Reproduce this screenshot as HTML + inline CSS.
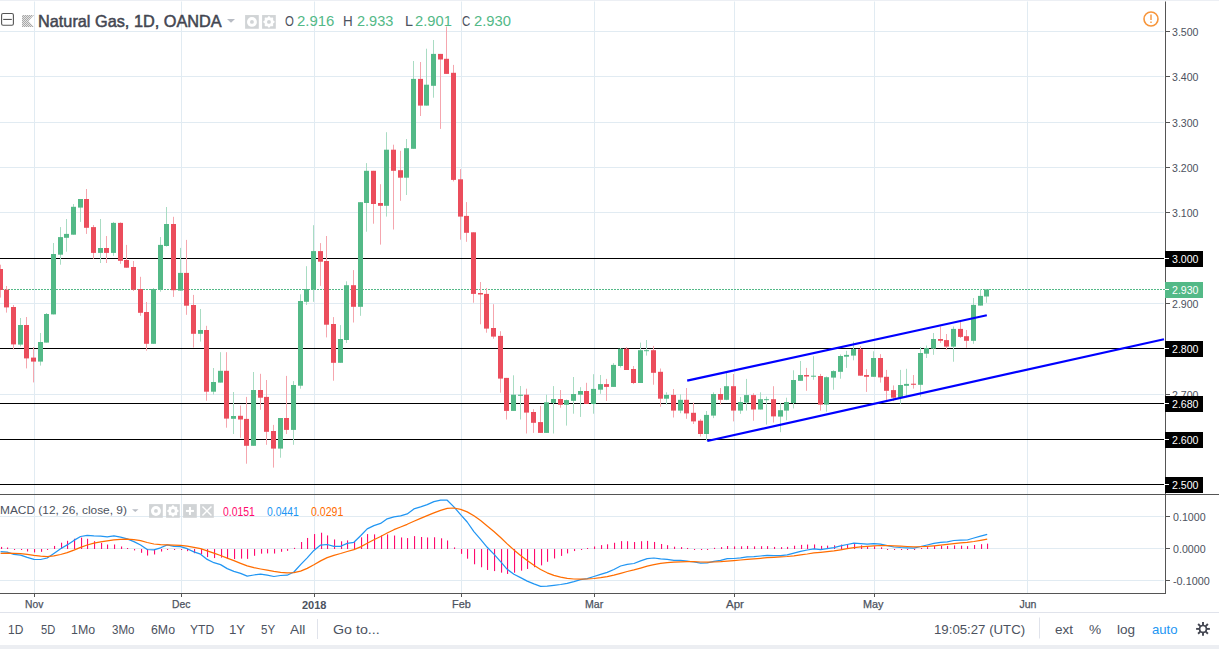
<!DOCTYPE html>
<html><head><meta charset="utf-8"><style>
html,body{margin:0;padding:0;background:#fff;}
body{width:1219px;height:649px;position:relative;overflow:hidden;font-family:"Liberation Sans",sans-serif;}
svg{position:absolute;left:0;top:0;}
</style></head><body>
<svg width="1219" height="649" viewBox="0 0 1219 649">
<rect x="0" y="0" width="1219" height="1" fill="#eceff4"/>
<rect x="34" y="1.5" width="1" height="591.5" fill="#e1ebf2"/>
<rect x="181" y="1.5" width="1" height="591.5" fill="#e1ebf2"/>
<rect x="314" y="1.5" width="1" height="591.5" fill="#e1ebf2"/>
<rect x="461" y="1.5" width="1" height="591.5" fill="#e1ebf2"/>
<rect x="594" y="1.5" width="1" height="591.5" fill="#e1ebf2"/>
<rect x="734" y="1.5" width="1" height="591.5" fill="#e1ebf2"/>
<rect x="874" y="1.5" width="1" height="591.5" fill="#e1ebf2"/>
<rect x="1027" y="1.5" width="1" height="591.5" fill="#e1ebf2"/>
<rect x="0" y="31" width="1164" height="1" fill="#e1ebf2"/>
<rect x="0" y="76" width="1164" height="1" fill="#e1ebf2"/>
<rect x="0" y="122" width="1164" height="1" fill="#e1ebf2"/>
<rect x="0" y="167" width="1164" height="1" fill="#e1ebf2"/>
<rect x="0" y="212" width="1164" height="1" fill="#e1ebf2"/>
<rect x="0" y="258" width="1164" height="1" fill="#e1ebf2"/>
<rect x="0" y="303" width="1164" height="1" fill="#e1ebf2"/>
<rect x="0" y="348" width="1164" height="1" fill="#e1ebf2"/>
<rect x="0" y="394" width="1164" height="1" fill="#e1ebf2"/>
<rect x="0" y="439" width="1164" height="1" fill="#e1ebf2"/>
<rect x="0" y="484" width="1164" height="1" fill="#e1ebf2"/>
<rect x="0" y="516" width="1164" height="1" fill="#e1ebf2"/>
<rect x="0" y="548" width="1164" height="1" fill="#e1ebf2"/>
<rect x="0" y="580" width="1164" height="1" fill="#e1ebf2"/>
<rect x="0" y="258" width="1164" height="1" fill="#000"/>
<rect x="0" y="348" width="1164" height="1" fill="#000"/>
<rect x="0" y="403" width="1164" height="1" fill="#000"/>
<rect x="0" y="439" width="1164" height="1" fill="#000"/>
<rect x="0" y="484" width="1164" height="1" fill="#000"/>
<line x1="0" y1="289.5" x2="1165" y2="289.5" stroke="#53b987" stroke-width="1" stroke-dasharray="2 1" stroke-dashoffset="1"/>
<rect x="0" y="264.7" width="1" height="32.9" fill="#f5a6ae"/>
<rect x="-2" y="269.0" width="5" height="21.0" fill="#eb4d5c"/>
<rect x="6" y="286.0" width="1" height="26.6" fill="#f5a6ae"/>
<rect x="4" y="289.6" width="5" height="17.8" fill="#eb4d5c"/>
<rect x="13" y="305.0" width="1" height="44.4" fill="#f5a6ae"/>
<rect x="11" y="307.0" width="5" height="37.4" fill="#eb4d5c"/>
<rect x="20" y="318.0" width="1" height="28.4" fill="#a9dcc3"/>
<rect x="18" y="325.0" width="5" height="19.6" fill="#53b987"/>
<rect x="26" y="317.0" width="1" height="51.4" fill="#f5a6ae"/>
<rect x="24" y="325.0" width="5" height="33.4" fill="#eb4d5c"/>
<rect x="33" y="347.0" width="1" height="35.4" fill="#f5a6ae"/>
<rect x="31" y="357.6" width="5" height="4.0" fill="#eb4d5c"/>
<rect x="40" y="333.0" width="1" height="32.6" fill="#a9dcc3"/>
<rect x="38" y="342.0" width="5" height="19.6" fill="#53b987"/>
<rect x="46" y="313.0" width="1" height="29.6" fill="#a9dcc3"/>
<rect x="44" y="314.0" width="5" height="28.6" fill="#53b987"/>
<rect x="53" y="243.0" width="1" height="71.4" fill="#a9dcc3"/>
<rect x="51" y="254.0" width="5" height="60.4" fill="#53b987"/>
<rect x="60" y="227.1" width="1" height="37.6" fill="#a9dcc3"/>
<rect x="58" y="237.1" width="5" height="17.6" fill="#53b987"/>
<rect x="66" y="219.0" width="1" height="32.7" fill="#a9dcc3"/>
<rect x="64" y="233.9" width="5" height="3.9" fill="#53b987"/>
<rect x="73" y="204.0" width="1" height="30.7" fill="#a9dcc3"/>
<rect x="71" y="206.8" width="5" height="27.9" fill="#53b987"/>
<rect x="80" y="199.0" width="1" height="22.9" fill="#a9dcc3"/>
<rect x="78" y="199.0" width="5" height="8.6" fill="#53b987"/>
<rect x="86" y="189.0" width="1" height="44.9" fill="#f5a6ae"/>
<rect x="84" y="199.0" width="5" height="28.8" fill="#eb4d5c"/>
<rect x="93" y="225.0" width="1" height="33.8" fill="#f5a6ae"/>
<rect x="91" y="227.1" width="5" height="25.8" fill="#eb4d5c"/>
<rect x="100" y="219.0" width="1" height="44.0" fill="#a9dcc3"/>
<rect x="98" y="248.0" width="5" height="4.9" fill="#53b987"/>
<rect x="106" y="236.0" width="1" height="27.0" fill="#f5a6ae"/>
<rect x="104" y="248.0" width="5" height="4.9" fill="#eb4d5c"/>
<rect x="113" y="221.9" width="1" height="33.9" fill="#a9dcc3"/>
<rect x="111" y="222.9" width="5" height="30.0" fill="#53b987"/>
<rect x="120" y="222.4" width="1" height="41.4" fill="#f5a6ae"/>
<rect x="118" y="222.9" width="5" height="37.9" fill="#eb4d5c"/>
<rect x="126" y="244.9" width="1" height="22.8" fill="#f5a6ae"/>
<rect x="124" y="260.0" width="5" height="7.7" fill="#eb4d5c"/>
<rect x="133" y="261.0" width="1" height="30.0" fill="#f5a6ae"/>
<rect x="131" y="267.0" width="5" height="22.7" fill="#eb4d5c"/>
<rect x="140" y="276.8" width="1" height="39.0" fill="#f5a6ae"/>
<rect x="138" y="289.0" width="5" height="23.8" fill="#eb4d5c"/>
<rect x="146" y="302.0" width="1" height="48.7" fill="#f5a6ae"/>
<rect x="144" y="312.0" width="5" height="31.8" fill="#eb4d5c"/>
<rect x="153" y="288.0" width="1" height="55.8" fill="#a9dcc3"/>
<rect x="151" y="289.0" width="5" height="54.8" fill="#53b987"/>
<rect x="160" y="237.0" width="1" height="54.7" fill="#a9dcc3"/>
<rect x="158" y="244.9" width="5" height="44.8" fill="#53b987"/>
<rect x="166" y="207.0" width="1" height="39.6" fill="#a9dcc3"/>
<rect x="164" y="224.0" width="5" height="22.0" fill="#53b987"/>
<rect x="173" y="216.8" width="1" height="80.1" fill="#f5a6ae"/>
<rect x="171" y="224.0" width="5" height="66.2" fill="#eb4d5c"/>
<rect x="180" y="247.9" width="1" height="42.7" fill="#a9dcc3"/>
<rect x="178" y="272.9" width="5" height="17.7" fill="#53b987"/>
<rect x="186" y="239.9" width="1" height="74.9" fill="#f5a6ae"/>
<rect x="184" y="272.9" width="5" height="32.8" fill="#eb4d5c"/>
<rect x="193" y="294.9" width="1" height="52.6" fill="#f5a6ae"/>
<rect x="191" y="305.0" width="5" height="28.8" fill="#eb4d5c"/>
<rect x="200" y="309.0" width="1" height="32.6" fill="#a9dcc3"/>
<rect x="198" y="330.0" width="5" height="3.8" fill="#53b987"/>
<rect x="206" y="325.8" width="1" height="74.9" fill="#f5a6ae"/>
<rect x="204" y="330.0" width="5" height="61.7" fill="#eb4d5c"/>
<rect x="213" y="368.0" width="1" height="26.5" fill="#a9dcc3"/>
<rect x="211" y="382.0" width="5" height="9.7" fill="#53b987"/>
<rect x="220" y="352.2" width="1" height="30.4" fill="#a9dcc3"/>
<rect x="218" y="370.8" width="5" height="11.8" fill="#53b987"/>
<rect x="226" y="352.2" width="1" height="75.5" fill="#f5a6ae"/>
<rect x="224" y="370.8" width="5" height="47.8" fill="#eb4d5c"/>
<rect x="233" y="392.0" width="1" height="42.0" fill="#a9dcc3"/>
<rect x="231" y="416.0" width="5" height="2.8" fill="#53b987"/>
<rect x="240" y="405.5" width="1" height="32.3" fill="#f5a6ae"/>
<rect x="238" y="415.8" width="5" height="3.7" fill="#eb4d5c"/>
<rect x="246" y="396.9" width="1" height="66.8" fill="#f5a6ae"/>
<rect x="244" y="418.9" width="5" height="26.9" fill="#eb4d5c"/>
<rect x="253" y="372.0" width="1" height="73.8" fill="#a9dcc3"/>
<rect x="251" y="390.0" width="5" height="55.8" fill="#53b987"/>
<rect x="260" y="373.8" width="1" height="36.0" fill="#f5a6ae"/>
<rect x="258" y="390.0" width="5" height="7.7" fill="#eb4d5c"/>
<rect x="266" y="380.0" width="1" height="64.8" fill="#f5a6ae"/>
<rect x="264" y="396.9" width="5" height="34.9" fill="#eb4d5c"/>
<rect x="273" y="424.9" width="1" height="42.7" fill="#f5a6ae"/>
<rect x="271" y="431.0" width="5" height="17.6" fill="#eb4d5c"/>
<rect x="280" y="418.0" width="1" height="39.7" fill="#a9dcc3"/>
<rect x="278" y="418.0" width="5" height="30.6" fill="#53b987"/>
<rect x="286" y="375.9" width="1" height="58.1" fill="#f5a6ae"/>
<rect x="284" y="418.0" width="5" height="11.9" fill="#eb4d5c"/>
<rect x="293" y="381.1" width="1" height="63.7" fill="#a9dcc3"/>
<rect x="291" y="385.0" width="5" height="44.9" fill="#53b987"/>
<rect x="300" y="294.3" width="1" height="94.4" fill="#a9dcc3"/>
<rect x="298" y="301.0" width="5" height="84.7" fill="#53b987"/>
<rect x="306" y="266.2" width="1" height="38.8" fill="#a9dcc3"/>
<rect x="304" y="289.0" width="5" height="12.8" fill="#53b987"/>
<rect x="313" y="225.2" width="1" height="76.6" fill="#a9dcc3"/>
<rect x="311" y="251.1" width="5" height="38.4" fill="#53b987"/>
<rect x="320" y="243.1" width="1" height="42.8" fill="#f5a6ae"/>
<rect x="318" y="251.1" width="5" height="10.6" fill="#eb4d5c"/>
<rect x="326" y="236.0" width="1" height="101.4" fill="#f5a6ae"/>
<rect x="324" y="261.0" width="5" height="63.7" fill="#eb4d5c"/>
<rect x="333" y="317.1" width="1" height="63.6" fill="#f5a6ae"/>
<rect x="331" y="324.0" width="5" height="38.8" fill="#eb4d5c"/>
<rect x="340" y="325.1" width="1" height="37.7" fill="#a9dcc3"/>
<rect x="338" y="339.0" width="5" height="23.8" fill="#53b987"/>
<rect x="346" y="281.3" width="1" height="61.7" fill="#a9dcc3"/>
<rect x="344" y="285.2" width="5" height="54.8" fill="#53b987"/>
<rect x="353" y="270.1" width="1" height="52.4" fill="#f5a6ae"/>
<rect x="351" y="285.2" width="5" height="21.6" fill="#eb4d5c"/>
<rect x="360" y="202.0" width="1" height="113.8" fill="#a9dcc3"/>
<rect x="358" y="202.2" width="5" height="104.6" fill="#53b987"/>
<rect x="366" y="163.1" width="1" height="68.6" fill="#a9dcc3"/>
<rect x="364" y="170.8" width="5" height="32.2" fill="#53b987"/>
<rect x="373" y="170.8" width="1" height="52.9" fill="#f5a6ae"/>
<rect x="371" y="170.8" width="5" height="33.2" fill="#eb4d5c"/>
<rect x="380" y="184.2" width="1" height="60.4" fill="#f5a6ae"/>
<rect x="378" y="203.0" width="5" height="2.8" fill="#eb4d5c"/>
<rect x="386" y="132.2" width="1" height="84.4" fill="#a9dcc3"/>
<rect x="384" y="149.7" width="5" height="56.1" fill="#53b987"/>
<rect x="393" y="144.7" width="1" height="84.8" fill="#f5a6ae"/>
<rect x="391" y="149.7" width="5" height="21.1" fill="#eb4d5c"/>
<rect x="400" y="150.8" width="1" height="50.0" fill="#f5a6ae"/>
<rect x="398" y="170.2" width="5" height="7.5" fill="#eb4d5c"/>
<rect x="406" y="139.0" width="1" height="56.0" fill="#a9dcc3"/>
<rect x="404" y="148.2" width="5" height="29.5" fill="#53b987"/>
<rect x="413" y="61.0" width="1" height="87.8" fill="#a9dcc3"/>
<rect x="411" y="78.9" width="5" height="69.9" fill="#53b987"/>
<rect x="420" y="62.0" width="1" height="54.0" fill="#f5a6ae"/>
<rect x="418" y="78.9" width="5" height="26.7" fill="#eb4d5c"/>
<rect x="426" y="48.7" width="1" height="56.9" fill="#a9dcc3"/>
<rect x="424" y="84.7" width="5" height="20.9" fill="#53b987"/>
<rect x="433" y="40.0" width="1" height="57.7" fill="#a9dcc3"/>
<rect x="431" y="53.9" width="5" height="31.9" fill="#53b987"/>
<rect x="440" y="53.9" width="1" height="75.0" fill="#f5a6ae"/>
<rect x="438" y="53.9" width="5" height="5.6" fill="#eb4d5c"/>
<rect x="446" y="26.5" width="1" height="47.4" fill="#f5a6ae"/>
<rect x="444" y="58.8" width="5" height="15.1" fill="#eb4d5c"/>
<rect x="453" y="64.9" width="1" height="116.5" fill="#f5a6ae"/>
<rect x="451" y="72.8" width="5" height="107.1" fill="#eb4d5c"/>
<rect x="460" y="169.1" width="1" height="70.6" fill="#f5a6ae"/>
<rect x="458" y="179.3" width="5" height="37.3" fill="#eb4d5c"/>
<rect x="466" y="202.1" width="1" height="39.7" fill="#f5a6ae"/>
<rect x="464" y="215.9" width="5" height="16.9" fill="#eb4d5c"/>
<rect x="473" y="232.3" width="1" height="70.4" fill="#f5a6ae"/>
<rect x="471" y="232.3" width="5" height="61.6" fill="#eb4d5c"/>
<rect x="480" y="282.0" width="1" height="42.3" fill="#f5a6ae"/>
<rect x="478" y="293.0" width="5" height="1.5" fill="#eb4d5c"/>
<rect x="486" y="288.0" width="1" height="44.7" fill="#f5a6ae"/>
<rect x="484" y="293.9" width="5" height="34.7" fill="#eb4d5c"/>
<rect x="493" y="304.2" width="1" height="34.5" fill="#f5a6ae"/>
<rect x="491" y="328.0" width="5" height="8.6" fill="#eb4d5c"/>
<rect x="500" y="331.2" width="1" height="61.5" fill="#f5a6ae"/>
<rect x="498" y="335.9" width="5" height="42.7" fill="#eb4d5c"/>
<rect x="506" y="377.9" width="1" height="41.6" fill="#f5a6ae"/>
<rect x="504" y="377.9" width="5" height="33.0" fill="#eb4d5c"/>
<rect x="513" y="375.3" width="1" height="35.6" fill="#a9dcc3"/>
<rect x="511" y="394.7" width="5" height="16.2" fill="#53b987"/>
<rect x="520" y="386.0" width="1" height="33.5" fill="#a9dcc3"/>
<rect x="518" y="394.7" width="5" height="1.1" fill="#53b987"/>
<rect x="526" y="388.7" width="1" height="44.8" fill="#f5a6ae"/>
<rect x="524" y="394.7" width="5" height="17.9" fill="#eb4d5c"/>
<rect x="533" y="409.2" width="1" height="23.7" fill="#f5a6ae"/>
<rect x="531" y="412.0" width="5" height="10.8" fill="#eb4d5c"/>
<rect x="540" y="405.9" width="1" height="27.0" fill="#f5a6ae"/>
<rect x="538" y="422.1" width="5" height="10.8" fill="#eb4d5c"/>
<rect x="546" y="394.7" width="1" height="38.2" fill="#a9dcc3"/>
<rect x="544" y="402.3" width="5" height="30.6" fill="#53b987"/>
<rect x="553" y="386.1" width="1" height="47.4" fill="#a9dcc3"/>
<rect x="551" y="399.0" width="5" height="3.9" fill="#53b987"/>
<rect x="560" y="390.0" width="1" height="17.7" fill="#f5a6ae"/>
<rect x="558" y="399.0" width="5" height="5.8" fill="#eb4d5c"/>
<rect x="566" y="399.5" width="1" height="26.1" fill="#a9dcc3"/>
<rect x="564" y="400.1" width="5" height="4.7" fill="#53b987"/>
<rect x="573" y="377.0" width="1" height="36.7" fill="#a9dcc3"/>
<rect x="571" y="394.0" width="5" height="6.8" fill="#53b987"/>
<rect x="580" y="387.2" width="1" height="29.7" fill="#a9dcc3"/>
<rect x="578" y="391.0" width="5" height="3.7" fill="#53b987"/>
<rect x="586" y="382.8" width="1" height="21.2" fill="#f5a6ae"/>
<rect x="584" y="391.0" width="5" height="13.0" fill="#eb4d5c"/>
<rect x="593" y="374.2" width="1" height="39.5" fill="#a9dcc3"/>
<rect x="591" y="388.9" width="5" height="15.1" fill="#53b987"/>
<rect x="600" y="375.0" width="1" height="18.8" fill="#a9dcc3"/>
<rect x="598" y="384.1" width="5" height="5.6" fill="#53b987"/>
<rect x="606" y="378.9" width="1" height="22.0" fill="#f5a6ae"/>
<rect x="604" y="384.1" width="5" height="2.8" fill="#eb4d5c"/>
<rect x="613" y="363.1" width="1" height="23.8" fill="#a9dcc3"/>
<rect x="611" y="364.9" width="5" height="22.0" fill="#53b987"/>
<rect x="620" y="348.0" width="1" height="19.5" fill="#a9dcc3"/>
<rect x="618" y="348.7" width="5" height="17.3" fill="#53b987"/>
<rect x="626" y="347.0" width="1" height="23.0" fill="#f5a6ae"/>
<rect x="624" y="348.7" width="5" height="21.3" fill="#eb4d5c"/>
<rect x="633" y="366.0" width="1" height="18.1" fill="#f5a6ae"/>
<rect x="631" y="369.0" width="5" height="14.0" fill="#eb4d5c"/>
<rect x="640" y="342.6" width="1" height="40.4" fill="#a9dcc3"/>
<rect x="638" y="350.2" width="5" height="32.8" fill="#53b987"/>
<rect x="646" y="340.0" width="1" height="15.6" fill="#a9dcc3"/>
<rect x="644" y="350.2" width="5" height="1.0" fill="#53b987"/>
<rect x="653" y="345.9" width="1" height="38.8" fill="#f5a6ae"/>
<rect x="651" y="350.2" width="5" height="22.6" fill="#eb4d5c"/>
<rect x="660" y="368.5" width="1" height="38.2" fill="#f5a6ae"/>
<rect x="658" y="371.8" width="5" height="26.9" fill="#eb4d5c"/>
<rect x="666" y="392.3" width="1" height="12.3" fill="#a9dcc3"/>
<rect x="664" y="394.9" width="5" height="3.8" fill="#53b987"/>
<rect x="673" y="389.0" width="1" height="28.5" fill="#f5a6ae"/>
<rect x="671" y="394.9" width="5" height="15.7" fill="#eb4d5c"/>
<rect x="680" y="394.4" width="1" height="18.8" fill="#a9dcc3"/>
<rect x="678" y="399.8" width="5" height="10.8" fill="#53b987"/>
<rect x="686" y="388.0" width="1" height="30.8" fill="#f5a6ae"/>
<rect x="684" y="399.8" width="5" height="13.6" fill="#eb4d5c"/>
<rect x="693" y="402.6" width="1" height="21.4" fill="#f5a6ae"/>
<rect x="691" y="412.8" width="5" height="8.6" fill="#eb4d5c"/>
<rect x="700" y="419.2" width="1" height="17.3" fill="#f5a6ae"/>
<rect x="698" y="420.7" width="5" height="13.3" fill="#eb4d5c"/>
<rect x="706" y="411.0" width="1" height="29.5" fill="#a9dcc3"/>
<rect x="704" y="414.9" width="5" height="19.1" fill="#53b987"/>
<rect x="713" y="392.3" width="1" height="25.8" fill="#a9dcc3"/>
<rect x="711" y="394.0" width="5" height="21.6" fill="#53b987"/>
<rect x="720" y="388.0" width="1" height="16.6" fill="#f5a6ae"/>
<rect x="718" y="394.0" width="5" height="5.8" fill="#eb4d5c"/>
<rect x="726" y="371.8" width="1" height="28.4" fill="#a9dcc3"/>
<rect x="724" y="386.2" width="5" height="13.6" fill="#53b987"/>
<rect x="733" y="374.0" width="1" height="47.4" fill="#f5a6ae"/>
<rect x="731" y="386.2" width="5" height="24.4" fill="#eb4d5c"/>
<rect x="740" y="397.0" width="1" height="16.8" fill="#a9dcc3"/>
<rect x="738" y="402.0" width="5" height="8.6" fill="#53b987"/>
<rect x="746" y="378.9" width="1" height="31.7" fill="#a9dcc3"/>
<rect x="744" y="395.1" width="5" height="7.5" fill="#53b987"/>
<rect x="753" y="393.3" width="1" height="27.4" fill="#f5a6ae"/>
<rect x="751" y="395.1" width="5" height="14.4" fill="#eb4d5c"/>
<rect x="760" y="392.3" width="1" height="17.2" fill="#a9dcc3"/>
<rect x="758" y="399.2" width="5" height="10.3" fill="#53b987"/>
<rect x="766" y="396.6" width="1" height="28.0" fill="#a9dcc3"/>
<rect x="764" y="399.2" width="5" height="1.0" fill="#53b987"/>
<rect x="773" y="386.2" width="1" height="36.3" fill="#f5a6ae"/>
<rect x="771" y="399.2" width="5" height="17.2" fill="#eb4d5c"/>
<rect x="780" y="403.0" width="1" height="29.2" fill="#a9dcc3"/>
<rect x="778" y="410.2" width="5" height="6.4" fill="#53b987"/>
<rect x="786" y="397.7" width="1" height="22.6" fill="#a9dcc3"/>
<rect x="784" y="402.0" width="5" height="8.6" fill="#53b987"/>
<rect x="793" y="370.3" width="1" height="38.1" fill="#a9dcc3"/>
<rect x="791" y="380.0" width="5" height="23.0" fill="#53b987"/>
<rect x="800" y="361.0" width="1" height="19.8" fill="#a9dcc3"/>
<rect x="798" y="375.0" width="5" height="5.8" fill="#53b987"/>
<rect x="806" y="367.9" width="1" height="22.9" fill="#f5a6ae"/>
<rect x="804" y="375.0" width="5" height="1.5" fill="#eb4d5c"/>
<rect x="813" y="356.2" width="1" height="23.6" fill="#a9dcc3"/>
<rect x="811" y="375.7" width="5" height="1.0" fill="#53b987"/>
<rect x="820" y="373.9" width="1" height="36.7" fill="#f5a6ae"/>
<rect x="818" y="376.0" width="5" height="28.6" fill="#eb4d5c"/>
<rect x="826" y="376.5" width="1" height="35.2" fill="#a9dcc3"/>
<rect x="824" y="377.2" width="5" height="27.4" fill="#53b987"/>
<rect x="833" y="370.3" width="1" height="19.4" fill="#a9dcc3"/>
<rect x="831" y="371.1" width="5" height="6.5" fill="#53b987"/>
<rect x="840" y="354.5" width="1" height="24.2" fill="#a9dcc3"/>
<rect x="838" y="356.0" width="5" height="15.8" fill="#53b987"/>
<rect x="846" y="350.8" width="1" height="17.1" fill="#a9dcc3"/>
<rect x="844" y="354.9" width="5" height="1.8" fill="#53b987"/>
<rect x="853" y="341.6" width="1" height="18.7" fill="#a9dcc3"/>
<rect x="851" y="349.1" width="5" height="6.5" fill="#53b987"/>
<rect x="860" y="346.1" width="1" height="29.6" fill="#f5a6ae"/>
<rect x="858" y="349.2" width="5" height="26.5" fill="#eb4d5c"/>
<rect x="866" y="369.2" width="1" height="22.7" fill="#f5a6ae"/>
<rect x="864" y="375.0" width="5" height="1.8" fill="#eb4d5c"/>
<rect x="873" y="351.3" width="1" height="25.5" fill="#a9dcc3"/>
<rect x="871" y="358.0" width="5" height="18.8" fill="#53b987"/>
<rect x="880" y="354.1" width="1" height="28.5" fill="#f5a6ae"/>
<rect x="878" y="358.0" width="5" height="19.4" fill="#eb4d5c"/>
<rect x="886" y="369.9" width="1" height="32.1" fill="#f5a6ae"/>
<rect x="884" y="376.8" width="5" height="14.0" fill="#eb4d5c"/>
<rect x="893" y="385.4" width="1" height="15.7" fill="#f5a6ae"/>
<rect x="891" y="390.1" width="5" height="7.6" fill="#eb4d5c"/>
<rect x="900" y="369.9" width="1" height="33.8" fill="#a9dcc3"/>
<rect x="898" y="385.0" width="5" height="12.7" fill="#53b987"/>
<rect x="906" y="368.8" width="1" height="28.5" fill="#a9dcc3"/>
<rect x="904" y="383.9" width="5" height="1.9" fill="#53b987"/>
<rect x="913" y="375.0" width="1" height="13.6" fill="#f5a6ae"/>
<rect x="911" y="383.7" width="5" height="1.1" fill="#eb4d5c"/>
<rect x="920" y="347.0" width="1" height="49.6" fill="#a9dcc3"/>
<rect x="918" y="353.0" width="5" height="31.8" fill="#53b987"/>
<rect x="926" y="345.5" width="1" height="12.5" fill="#a9dcc3"/>
<rect x="924" y="348.1" width="5" height="5.6" fill="#53b987"/>
<rect x="933" y="333.0" width="1" height="21.8" fill="#a9dcc3"/>
<rect x="931" y="339.0" width="5" height="9.7" fill="#53b987"/>
<rect x="940" y="326.5" width="1" height="16.4" fill="#f5a6ae"/>
<rect x="938" y="339.0" width="5" height="1.8" fill="#eb4d5c"/>
<rect x="946" y="334.0" width="1" height="15.8" fill="#f5a6ae"/>
<rect x="944" y="340.1" width="5" height="6.5" fill="#eb4d5c"/>
<rect x="953" y="326.5" width="1" height="35.2" fill="#a9dcc3"/>
<rect x="951" y="328.9" width="5" height="17.7" fill="#53b987"/>
<rect x="960" y="321.1" width="1" height="16.9" fill="#f5a6ae"/>
<rect x="958" y="328.9" width="5" height="8.0" fill="#eb4d5c"/>
<rect x="966" y="330.0" width="1" height="17.7" fill="#f5a6ae"/>
<rect x="964" y="336.2" width="5" height="4.6" fill="#eb4d5c"/>
<rect x="973" y="298.0" width="1" height="45.8" fill="#a9dcc3"/>
<rect x="971" y="304.9" width="5" height="35.9" fill="#53b987"/>
<rect x="980" y="289.0" width="1" height="16.6" fill="#a9dcc3"/>
<rect x="978" y="295.9" width="5" height="9.7" fill="#53b987"/>
<rect x="986" y="289.0" width="1" height="13.8" fill="#a9dcc3"/>
<rect x="984" y="289.4" width="5" height="7.1" fill="#53b987"/>
<line x1="687.2" y1="380.6" x2="986.8" y2="315.2" stroke="#0000ff" stroke-width="2.2" stroke-linecap="butt"/>
<line x1="707.3" y1="441" x2="1164" y2="339.2" stroke="#0000ff" stroke-width="2.2" stroke-linecap="butt"/>
<circle cx="1151" cy="19" r="7" fill="none" stroke="#f7953a" stroke-width="1.6"/>
<rect x="1150.3" y="14.5" width="1.4" height="5.5" fill="#f7953a"/><rect x="1150.3" y="21.5" width="1.4" height="1.5" fill="#f7953a"/>
<rect x="0" y="494" width="1219" height="1" fill="#555"/>
<rect x="1165" y="1.5" width="1" height="591.5" fill="#555"/>
<rect x="0" y="593" width="1166" height="1" fill="#555"/>
<rect x="34" y="594" width="1" height="3" fill="#555"/>
<rect x="181" y="594" width="1" height="3" fill="#555"/>
<rect x="314" y="594" width="1" height="3" fill="#555"/>
<rect x="461" y="594" width="1" height="3" fill="#555"/>
<rect x="594" y="594" width="1" height="3" fill="#555"/>
<rect x="734" y="594" width="1" height="3" fill="#555"/>
<rect x="874" y="594" width="1" height="3" fill="#555"/>
<rect x="1166" y="31.00" width="4" height="1" fill="#555"/>
<rect x="1166" y="76.00" width="4" height="1" fill="#555"/>
<rect x="1166" y="122.00" width="4" height="1" fill="#555"/>
<rect x="1166" y="167.00" width="4" height="1" fill="#555"/>
<rect x="1166" y="212.00" width="4" height="1" fill="#555"/>
<rect x="1166" y="258.00" width="4" height="1" fill="#555"/>
<rect x="1166" y="303.00" width="4" height="1" fill="#555"/>
<rect x="1166" y="348.00" width="4" height="1" fill="#555"/>
<rect x="1166" y="394.00" width="4" height="1" fill="#555"/>
<rect x="1166" y="439.00" width="4" height="1" fill="#555"/>
<rect x="1166" y="484.00" width="4" height="1" fill="#555"/>
<rect x="1166" y="516" width="4" height="1" fill="#555"/>
<rect x="1166" y="548" width="4" height="1" fill="#555"/>
<rect x="1166" y="580" width="4" height="1" fill="#555"/>
<rect x="1" y="546.90" width="1.1" height="2.10" fill="#ff0a6e"/>
<rect x="7" y="547.51" width="1.1" height="1.49" fill="#ff0a6e"/>
<rect x="14" y="549.00" width="1.1" height="1.00" fill="#ff0a6e"/>
<rect x="21" y="549.00" width="1.1" height="1.00" fill="#ff0a6e"/>
<rect x="27" y="549.00" width="1.1" height="2.47" fill="#ff0a6e"/>
<rect x="34" y="549.00" width="1.1" height="3.40" fill="#ff0a6e"/>
<rect x="41" y="549.00" width="1.1" height="2.83" fill="#ff0a6e"/>
<rect x="47" y="549.00" width="1.1" height="1.00" fill="#ff0a6e"/>
<rect x="54" y="545.94" width="1.1" height="3.06" fill="#ff0a6e"/>
<rect x="61" y="542.72" width="1.1" height="6.28" fill="#ff0a6e"/>
<rect x="67" y="540.81" width="1.1" height="8.19" fill="#ff0a6e"/>
<rect x="74" y="538.76" width="1.1" height="10.24" fill="#ff0a6e"/>
<rect x="81" y="537.61" width="1.1" height="11.39" fill="#ff0a6e"/>
<rect x="87" y="538.77" width="1.1" height="10.23" fill="#ff0a6e"/>
<rect x="94" y="541.18" width="1.1" height="7.82" fill="#ff0a6e"/>
<rect x="101" y="542.89" width="1.1" height="6.11" fill="#ff0a6e"/>
<rect x="107" y="544.55" width="1.1" height="4.45" fill="#ff0a6e"/>
<rect x="114" y="544.51" width="1.1" height="4.49" fill="#ff0a6e"/>
<rect x="121" y="546.48" width="1.1" height="2.52" fill="#ff0a6e"/>
<rect x="127" y="548.00" width="1.1" height="1.00" fill="#ff0a6e"/>
<rect x="134" y="549.00" width="1.1" height="1.40" fill="#ff0a6e"/>
<rect x="141" y="549.00" width="1.1" height="3.79" fill="#ff0a6e"/>
<rect x="147" y="549.00" width="1.1" height="6.53" fill="#ff0a6e"/>
<rect x="154" y="549.00" width="1.1" height="5.46" fill="#ff0a6e"/>
<rect x="161" y="549.00" width="1.1" height="2.54" fill="#ff0a6e"/>
<rect x="167" y="549.00" width="1.1" height="1.00" fill="#ff0a6e"/>
<rect x="174" y="549.00" width="1.1" height="1.00" fill="#ff0a6e"/>
<rect x="181" y="549.00" width="1.1" height="1.00" fill="#ff0a6e"/>
<rect x="187" y="549.00" width="1.1" height="2.15" fill="#ff0a6e"/>
<rect x="194" y="549.00" width="1.1" height="4.18" fill="#ff0a6e"/>
<rect x="201" y="549.00" width="1.1" height="5.04" fill="#ff0a6e"/>
<rect x="207" y="549.00" width="1.1" height="8.07" fill="#ff0a6e"/>
<rect x="214" y="549.00" width="1.1" height="9.06" fill="#ff0a6e"/>
<rect x="221" y="549.00" width="1.1" height="8.64" fill="#ff0a6e"/>
<rect x="227" y="549.00" width="1.1" height="9.98" fill="#ff0a6e"/>
<rect x="234" y="549.00" width="1.1" height="10.07" fill="#ff0a6e"/>
<rect x="241" y="549.00" width="1.1" height="9.62" fill="#ff0a6e"/>
<rect x="247" y="549.00" width="1.1" height="9.86" fill="#ff0a6e"/>
<rect x="254" y="549.00" width="1.1" height="6.79" fill="#ff0a6e"/>
<rect x="261" y="549.00" width="1.1" height="4.66" fill="#ff0a6e"/>
<rect x="267" y="549.00" width="1.1" height="4.40" fill="#ff0a6e"/>
<rect x="274" y="549.00" width="1.1" height="4.54" fill="#ff0a6e"/>
<rect x="281" y="549.00" width="1.1" height="2.78" fill="#ff0a6e"/>
<rect x="287" y="549.00" width="1.1" height="1.82" fill="#ff0a6e"/>
<rect x="294" y="547.85" width="1.1" height="1.15" fill="#ff0a6e"/>
<rect x="301" y="542.02" width="1.1" height="6.98" fill="#ff0a6e"/>
<rect x="307" y="537.96" width="1.1" height="11.04" fill="#ff0a6e"/>
<rect x="314" y="534.07" width="1.1" height="14.93" fill="#ff0a6e"/>
<rect x="321" y="532.72" width="1.1" height="16.28" fill="#ff0a6e"/>
<rect x="327" y="535.43" width="1.1" height="13.57" fill="#ff0a6e"/>
<rect x="334" y="539.45" width="1.1" height="9.55" fill="#ff0a6e"/>
<rect x="341" y="541.31" width="1.1" height="7.69" fill="#ff0a6e"/>
<rect x="347" y="540.38" width="1.1" height="8.62" fill="#ff0a6e"/>
<rect x="354" y="541.17" width="1.1" height="7.83" fill="#ff0a6e"/>
<rect x="361" y="537.32" width="1.1" height="11.68" fill="#ff0a6e"/>
<rect x="367" y="534.09" width="1.1" height="14.91" fill="#ff0a6e"/>
<rect x="374" y="534.37" width="1.1" height="14.63" fill="#ff0a6e"/>
<rect x="381" y="535.45" width="1.1" height="13.55" fill="#ff0a6e"/>
<rect x="387" y="534.38" width="1.1" height="14.62" fill="#ff0a6e"/>
<rect x="394" y="535.55" width="1.1" height="13.45" fill="#ff0a6e"/>
<rect x="401" y="537.45" width="1.1" height="11.55" fill="#ff0a6e"/>
<rect x="407" y="538.08" width="1.1" height="10.92" fill="#ff0a6e"/>
<rect x="414" y="536.12" width="1.1" height="12.88" fill="#ff0a6e"/>
<rect x="421" y="536.99" width="1.1" height="12.01" fill="#ff0a6e"/>
<rect x="427" y="537.47" width="1.1" height="11.53" fill="#ff0a6e"/>
<rect x="434" y="537.26" width="1.1" height="11.74" fill="#ff0a6e"/>
<rect x="441" y="538.30" width="1.1" height="10.70" fill="#ff0a6e"/>
<rect x="447" y="540.48" width="1.1" height="8.52" fill="#ff0a6e"/>
<rect x="454" y="547.42" width="1.1" height="1.58" fill="#ff0a6e"/>
<rect x="461" y="549.00" width="1.1" height="4.84" fill="#ff0a6e"/>
<rect x="467" y="549.00" width="1.1" height="9.68" fill="#ff0a6e"/>
<rect x="474" y="549.00" width="1.1" height="15.26" fill="#ff0a6e"/>
<rect x="481" y="549.00" width="1.1" height="18.26" fill="#ff0a6e"/>
<rect x="487" y="549.00" width="1.1" height="20.95" fill="#ff0a6e"/>
<rect x="494" y="549.00" width="1.1" height="22.08" fill="#ff0a6e"/>
<rect x="501" y="549.00" width="1.1" height="23.65" fill="#ff0a6e"/>
<rect x="507" y="549.00" width="1.1" height="24.93" fill="#ff0a6e"/>
<rect x="514" y="549.00" width="1.1" height="23.70" fill="#ff0a6e"/>
<rect x="521" y="549.00" width="1.1" height="21.66" fill="#ff0a6e"/>
<rect x="527" y="549.00" width="1.1" height="19.95" fill="#ff0a6e"/>
<rect x="534" y="549.00" width="1.1" height="18.17" fill="#ff0a6e"/>
<rect x="541" y="549.00" width="1.1" height="16.37" fill="#ff0a6e"/>
<rect x="547" y="549.00" width="1.1" height="12.79" fill="#ff0a6e"/>
<rect x="554" y="549.00" width="1.1" height="9.47" fill="#ff0a6e"/>
<rect x="561" y="549.00" width="1.1" height="6.89" fill="#ff0a6e"/>
<rect x="567" y="549.00" width="1.1" height="4.41" fill="#ff0a6e"/>
<rect x="574" y="549.00" width="1.1" height="2.06" fill="#ff0a6e"/>
<rect x="581" y="549.00" width="1.1" height="1.00" fill="#ff0a6e"/>
<rect x="587" y="548.00" width="1.1" height="1.00" fill="#ff0a6e"/>
<rect x="594" y="546.48" width="1.1" height="2.52" fill="#ff0a6e"/>
<rect x="601" y="545.12" width="1.1" height="3.88" fill="#ff0a6e"/>
<rect x="607" y="544.31" width="1.1" height="4.69" fill="#ff0a6e"/>
<rect x="614" y="542.77" width="1.1" height="6.23" fill="#ff0a6e"/>
<rect x="621" y="541.13" width="1.1" height="7.87" fill="#ff0a6e"/>
<rect x="627" y="541.22" width="1.1" height="7.78" fill="#ff0a6e"/>
<rect x="634" y="542.04" width="1.1" height="6.96" fill="#ff0a6e"/>
<rect x="641" y="541.22" width="1.1" height="7.78" fill="#ff0a6e"/>
<rect x="647" y="540.90" width="1.1" height="8.10" fill="#ff0a6e"/>
<rect x="654" y="541.96" width="1.1" height="7.04" fill="#ff0a6e"/>
<rect x="661" y="543.99" width="1.1" height="5.01" fill="#ff0a6e"/>
<rect x="667" y="545.19" width="1.1" height="3.81" fill="#ff0a6e"/>
<rect x="674" y="546.69" width="1.1" height="2.31" fill="#ff0a6e"/>
<rect x="681" y="547.12" width="1.1" height="1.88" fill="#ff0a6e"/>
<rect x="687" y="547.95" width="1.1" height="1.05" fill="#ff0a6e"/>
<rect x="694" y="549.00" width="1.1" height="1.00" fill="#ff0a6e"/>
<rect x="701" y="549.00" width="1.1" height="1.00" fill="#ff0a6e"/>
<rect x="707" y="549.00" width="1.1" height="1.00" fill="#ff0a6e"/>
<rect x="714" y="547.81" width="1.1" height="1.19" fill="#ff0a6e"/>
<rect x="721" y="547.11" width="1.1" height="1.89" fill="#ff0a6e"/>
<rect x="727" y="546.01" width="1.1" height="2.99" fill="#ff0a6e"/>
<rect x="734" y="546.44" width="1.1" height="2.56" fill="#ff0a6e"/>
<rect x="741" y="546.32" width="1.1" height="2.68" fill="#ff0a6e"/>
<rect x="747" y="545.94" width="1.1" height="3.06" fill="#ff0a6e"/>
<rect x="754" y="546.39" width="1.1" height="2.61" fill="#ff0a6e"/>
<rect x="761" y="546.22" width="1.1" height="2.78" fill="#ff0a6e"/>
<rect x="767" y="546.14" width="1.1" height="2.86" fill="#ff0a6e"/>
<rect x="774" y="546.91" width="1.1" height="2.09" fill="#ff0a6e"/>
<rect x="781" y="547.12" width="1.1" height="1.88" fill="#ff0a6e"/>
<rect x="787" y="546.87" width="1.1" height="2.13" fill="#ff0a6e"/>
<rect x="794" y="545.74" width="1.1" height="3.26" fill="#ff0a6e"/>
<rect x="801" y="544.88" width="1.1" height="4.12" fill="#ff0a6e"/>
<rect x="807" y="544.54" width="1.1" height="4.46" fill="#ff0a6e"/>
<rect x="814" y="544.45" width="1.1" height="4.55" fill="#ff0a6e"/>
<rect x="821" y="545.87" width="1.1" height="3.13" fill="#ff0a6e"/>
<rect x="827" y="545.62" width="1.1" height="3.38" fill="#ff0a6e"/>
<rect x="834" y="545.32" width="1.1" height="3.68" fill="#ff0a6e"/>
<rect x="841" y="544.59" width="1.1" height="4.41" fill="#ff0a6e"/>
<rect x="847" y="544.28" width="1.1" height="4.72" fill="#ff0a6e"/>
<rect x="854" y="544.05" width="1.1" height="4.95" fill="#ff0a6e"/>
<rect x="861" y="545.34" width="1.1" height="3.66" fill="#ff0a6e"/>
<rect x="867" y="546.38" width="1.1" height="2.62" fill="#ff0a6e"/>
<rect x="874" y="546.31" width="1.1" height="2.69" fill="#ff0a6e"/>
<rect x="881" y="547.29" width="1.1" height="1.71" fill="#ff0a6e"/>
<rect x="887" y="549.00" width="1.1" height="1.00" fill="#ff0a6e"/>
<rect x="894" y="549.00" width="1.1" height="1.00" fill="#ff0a6e"/>
<rect x="901" y="549.00" width="1.1" height="1.00" fill="#ff0a6e"/>
<rect x="907" y="549.00" width="1.1" height="1.00" fill="#ff0a6e"/>
<rect x="914" y="549.00" width="1.1" height="1.00" fill="#ff0a6e"/>
<rect x="921" y="548.00" width="1.1" height="1.00" fill="#ff0a6e"/>
<rect x="927" y="547.15" width="1.1" height="1.85" fill="#ff0a6e"/>
<rect x="934" y="546.12" width="1.1" height="2.88" fill="#ff0a6e"/>
<rect x="941" y="545.70" width="1.1" height="3.30" fill="#ff0a6e"/>
<rect x="947" y="545.88" width="1.1" height="3.12" fill="#ff0a6e"/>
<rect x="954" y="545.37" width="1.1" height="3.63" fill="#ff0a6e"/>
<rect x="961" y="545.62" width="1.1" height="3.38" fill="#ff0a6e"/>
<rect x="967" y="546.15" width="1.1" height="2.85" fill="#ff0a6e"/>
<rect x="974" y="545.05" width="1.1" height="3.95" fill="#ff0a6e"/>
<rect x="981" y="544.19" width="1.1" height="4.81" fill="#ff0a6e"/>
<rect x="987" y="543.66" width="1.1" height="5.34" fill="#ff0a6e"/>
<polyline points="0.6,551.7 7.2,552.1 13.9,554.4 20.6,555.1 27.2,557.4 33.9,559.3 40.6,559.5 47.2,558.0 53.9,553.4 60.6,548.7 67.2,544.9 73.9,540.4 80.6,536.5 87.2,535.3 93.9,535.8 100.6,536.1 107.2,536.8 113.9,535.8 120.6,537.2 127.2,538.9 133.9,541.6 140.6,545.0 147.2,549.5 153.9,549.9 160.6,547.8 167.2,544.9 173.9,546.4 180.6,546.7 187.2,548.7 193.9,551.9 200.6,554.2 207.2,559.4 213.9,562.7 220.6,564.6 227.2,568.6 233.9,571.3 240.6,573.4 247.2,576.2 253.9,575.0 260.6,574.1 267.2,575.1 273.9,576.5 280.6,575.5 287.2,575.2 293.9,572.0 300.6,564.6 307.2,557.9 313.9,550.4 320.6,545.1 327.2,544.5 333.9,546.3 340.6,546.3 347.2,543.4 353.9,542.3 360.6,535.7 367.2,528.9 373.9,525.6 380.6,523.4 387.2,518.8 393.9,516.8 400.6,515.9 407.2,513.9 413.9,508.9 420.6,506.9 427.2,504.6 433.9,501.6 440.6,500.1 447.2,500.2 453.9,506.9 460.6,514.7 467.2,522.0 473.9,531.6 480.6,539.3 487.2,547.3 493.9,554.1 500.6,561.7 507.2,569.3 513.9,574.2 520.6,577.6 527.2,581.1 533.9,583.9 540.6,586.4 547.2,586.1 553.9,585.3 560.6,584.5 567.2,583.3 573.9,581.6 580.6,579.7 587.2,578.6 593.9,576.5 600.6,574.3 607.2,572.4 613.9,569.5 620.6,566.0 627.2,564.3 633.9,563.5 640.6,560.8 647.2,558.6 653.9,558.0 660.6,558.9 667.2,559.3 673.9,560.4 680.6,560.4 687.2,561.1 693.9,562.0 700.6,563.2 707.2,562.9 713.9,561.4 720.6,560.3 727.2,558.6 733.9,558.5 740.6,557.8 747.2,556.8 753.9,556.7 760.6,556.0 767.2,555.3 773.9,555.7 780.6,555.6 787.2,554.9 793.9,553.1 800.6,551.3 807.2,550.0 813.9,548.9 820.6,549.7 827.2,548.7 833.9,547.6 840.6,545.9 847.2,544.5 853.9,543.2 860.6,543.7 867.2,544.2 873.9,543.6 880.6,544.2 887.2,545.6 893.9,547.0 900.6,547.5 907.2,547.8 913.9,548.1 920.6,546.5 927.2,545.0 933.9,543.4 940.6,542.3 947.2,541.8 953.9,540.5 960.6,540.1 967.2,540.0 973.9,538.0 980.6,536.1 987.2,534.4" fill="none" stroke="#2196f3" stroke-width="1.25" stroke-linejoin="round"/>
<polyline points="0.6,553.3 7.2,553.1 13.9,553.3 20.6,553.7 27.2,554.4 33.9,555.4 40.6,556.2 47.2,556.6 53.9,555.9 60.6,554.5 67.2,552.6 73.9,550.1 80.6,547.4 87.2,545.0 93.9,543.2 100.6,541.8 107.2,540.8 113.9,539.8 120.6,539.3 127.2,539.2 133.9,539.7 140.6,540.7 147.2,542.5 153.9,544.0 160.6,544.7 167.2,544.8 173.9,545.1 180.6,545.4 187.2,546.1 193.9,547.3 200.6,548.6 207.2,550.8 213.9,553.2 220.6,555.5 227.2,558.1 233.9,560.7 240.6,563.3 247.2,565.8 253.9,567.7 260.6,569.0 267.2,570.2 273.9,571.4 280.6,572.3 287.2,572.8 293.9,572.7 300.6,571.1 307.2,568.4 313.9,564.8 320.6,560.9 327.2,557.6 333.9,555.3 340.6,553.5 347.2,551.5 353.9,549.7 360.6,546.9 367.2,543.3 373.9,539.7 380.6,536.5 387.2,533.0 393.9,529.7 400.6,527.0 407.2,524.3 413.9,521.3 420.6,518.4 427.2,515.6 433.9,512.8 440.6,510.3 447.2,508.3 453.9,508.0 460.6,509.3 467.2,511.9 473.9,515.8 480.6,520.5 487.2,525.9 493.9,531.5 500.6,537.5 507.2,543.9 513.9,549.9 520.6,555.5 527.2,560.6 533.9,565.3 540.6,569.5 547.2,572.8 553.9,575.3 560.6,577.1 567.2,578.4 573.9,579.0 580.6,579.1 587.2,579.0 593.9,578.5 600.6,577.7 607.2,576.6 613.9,575.2 620.6,573.4 627.2,571.5 633.9,569.9 640.6,568.1 647.2,566.2 653.9,564.6 660.6,563.4 667.2,562.6 673.9,562.2 680.6,561.8 687.2,561.7 693.9,561.7 700.6,562.0 707.2,562.2 713.9,562.0 720.6,561.7 727.2,561.1 733.9,560.6 740.6,560.0 747.2,559.4 753.9,558.8 760.6,558.3 767.2,557.7 773.9,557.3 780.6,556.9 787.2,556.5 793.9,555.8 800.6,554.9 807.2,554.0 813.9,552.9 820.6,552.3 827.2,551.6 833.9,550.8 840.6,549.8 847.2,548.7 853.9,547.6 860.6,546.8 867.2,546.3 873.9,545.8 880.6,545.5 887.2,545.5 893.9,545.8 900.6,546.1 907.2,546.5 913.9,546.8 920.6,546.7 927.2,546.4 933.9,545.8 940.6,545.1 947.2,544.4 953.9,543.7 960.6,542.9 967.2,542.4 973.9,541.5 980.6,540.4 987.2,539.2" fill="none" stroke="#ff6d00" stroke-width="1.25" stroke-linejoin="round"/>
<rect x="0" y="612" width="1219" height="1" fill="#e0e3eb"/>
<rect x="0" y="645" width="1219" height="4" fill="#eceef2"/>
<rect x="317" y="619" width="1" height="20" fill="#e0e3eb"/>
<rect x="1039" y="617.5" width="1" height="21" fill="#e0e3eb"/>
</svg>
<svg width="1219" height="649" style="position:absolute;left:0;top:0"><rect x="1.6" y="13.5" width="11.8" height="11.8" rx="1.5" fill="none" stroke="#555" stroke-width="1.1"/><rect x="3.2" y="18.9" width="8.6" height="1.1" fill="#555"/><defs><pattern id="chk" x="0" y="0" width="2" height="2" patternUnits="userSpaceOnUse"><rect width="2" height="2" fill="#e4e4e4"/><rect width="1" height="1" fill="#a8a8a8"/><rect x="1" y="1" width="1" height="1" fill="#a8a8a8"/></pattern></defs><polygon points="22,15 34,15 28.5,21 34,27 22,27" fill="url(#chk)"/><polygon points="227,19 235,19 231,22.8" fill="#b8bcc4"/><polygon points="132,509.2 138.5,509.2 135.25,512" fill="#b8bcc4"/><rect x="245.1" y="15.05" width="13.7" height="13.7" fill="#d1d4d6"/><ellipse cx="251.95" cy="21.9" rx="4.93" ry="4.93" fill="#fff"/><circle cx="251.95" cy="21.9" r="1.92" fill="#d1d4d6"/><rect x="262.1" y="15.05" width="13.7" height="13.7" fill="#d1d4d6"/><polygon points="274.16,21.90 272.49,23.37 272.63,25.58 270.42,25.44 268.95,27.11 267.48,25.44 265.27,25.58 265.41,23.37 263.74,21.90 265.41,20.43 265.27,18.22 267.48,18.36 268.95,16.69 270.42,18.36 272.63,18.22 272.49,20.43" fill="#fff" stroke="#fff" stroke-width="1.2" stroke-linejoin="round"/><circle cx="268.95000000000005" cy="21.9" r="1.92" fill="#d1d4d6"/><rect x="149.1" y="504.1" width="13.7" height="13.7" fill="#d1d4d6"/><ellipse cx="155.95" cy="510.95000000000005" rx="4.93" ry="4.93" fill="#fff"/><circle cx="155.95" cy="510.95000000000005" r="1.92" fill="#d1d4d6"/><rect x="166.1" y="504.1" width="13.7" height="13.7" fill="#d1d4d6"/><polygon points="178.16,510.95 176.49,512.42 176.63,514.63 174.42,514.49 172.95,516.16 171.48,514.49 169.27,514.63 169.41,512.42 167.74,510.95 169.41,509.48 169.27,507.27 171.48,507.41 172.95,505.74 174.42,507.41 176.63,507.27 176.49,509.48" fill="#fff" stroke="#fff" stroke-width="1.2" stroke-linejoin="round"/><circle cx="172.95" cy="510.95000000000005" r="1.92" fill="#d1d4d6"/><rect x="183.1" y="504.1" width="13.7" height="13.7" fill="#d1d4d6"/><rect x="188.95" y="506.95000000000005" width="2" height="8" fill="#fff"/><rect x="185.95" y="509.95000000000005" width="8" height="2" fill="#fff"/><rect x="200.1" y="504.1" width="13.7" height="13.7" fill="#d1d4d6"/><path d="M202.45,506.45000000000005L211.45,515.45M211.45,506.45000000000005L202.45,515.45" stroke="#fff" stroke-width="1.4"/><circle cx="1203" cy="628.9" r="3.4" fill="none" stroke="#434651" stroke-width="1.7"/><line x1="1206.60" y1="628.90" x2="1209.90" y2="628.90" stroke="#434651" stroke-width="1.9"/><line x1="1205.55" y1="631.45" x2="1207.88" y2="633.78" stroke="#434651" stroke-width="1.9"/><line x1="1203.00" y1="632.50" x2="1203.00" y2="635.80" stroke="#434651" stroke-width="1.9"/><line x1="1200.45" y1="631.45" x2="1198.12" y2="633.78" stroke="#434651" stroke-width="1.9"/><line x1="1199.40" y1="628.90" x2="1196.10" y2="628.90" stroke="#434651" stroke-width="1.9"/><line x1="1200.45" y1="626.35" x2="1198.12" y2="624.02" stroke="#434651" stroke-width="1.9"/><line x1="1203.00" y1="625.30" x2="1203.00" y2="622.00" stroke="#434651" stroke-width="1.9"/><line x1="1205.55" y1="626.35" x2="1207.88" y2="624.02" stroke="#434651" stroke-width="1.9"/></svg>
<div style="position:absolute;left:38.19px;top:13.00px;font-size:16.19px;color:#434651;font-weight:normal;-webkit-text-stroke:0.5px #434651;white-space:pre;line-height:1;transform:scaleX(1.0055);transform-origin:0 0">Natural Gas, 1D, OANDA</div>
<div style="position:absolute;left:284.69px;top:13.56px;font-size:14.13px;color:#4c525e;font-weight:normal;white-space:pre;line-height:1;transform:scaleX(0.8067);transform-origin:0 0">O</div>
<div style="position:absolute;left:296.69px;top:13.56px;font-size:14.13px;color:#53b987;font-weight:normal;white-space:pre;line-height:1;transform:scaleX(1.0574);transform-origin:0 0">2.916</div>
<div style="position:absolute;left:343.29px;top:13.56px;font-size:14.13px;color:#4c525e;font-weight:normal;white-space:pre;line-height:1;transform:scaleX(0.9498);transform-origin:0 0">H</div>
<div style="position:absolute;left:357.09px;top:13.56px;font-size:14.13px;color:#53b987;font-weight:normal;white-space:pre;line-height:1;transform:scaleX(1.0289);transform-origin:0 0">2.933</div>
<div style="position:absolute;left:404.69px;top:13.56px;font-size:14.13px;color:#4c525e;font-weight:normal;white-space:pre;line-height:1;transform:scaleX(1.0142);transform-origin:0 0">L</div>
<div style="position:absolute;left:414.89px;top:13.56px;font-size:14.13px;color:#53b987;font-weight:normal;white-space:pre;line-height:1;transform:scaleX(1.0432);transform-origin:0 0">2.901</div>
<div style="position:absolute;left:462.49px;top:13.56px;font-size:14.13px;color:#4c525e;font-weight:normal;white-space:pre;line-height:1;transform:scaleX(0.8085);transform-origin:0 0">C</div>
<div style="position:absolute;left:474.29px;top:13.56px;font-size:14.13px;color:#53b987;font-weight:normal;white-space:pre;line-height:1;transform:scaleX(1.0456);transform-origin:0 0">2.930</div>
<div style="position:absolute;left:1172.45px;top:26.56px;font-size:10.97px;color:#4c525e;font-weight:normal;white-space:pre;line-height:1;transform:scaleX(0.9635);transform-origin:0 0">3.500</div>
<div style="position:absolute;left:1172.45px;top:71.56px;font-size:10.97px;color:#4c525e;font-weight:normal;white-space:pre;line-height:1;transform:scaleX(0.9635);transform-origin:0 0">3.400</div>
<div style="position:absolute;left:1172.45px;top:117.56px;font-size:10.97px;color:#4c525e;font-weight:normal;white-space:pre;line-height:1;transform:scaleX(0.9635);transform-origin:0 0">3.300</div>
<div style="position:absolute;left:1172.45px;top:162.56px;font-size:10.97px;color:#4c525e;font-weight:normal;white-space:pre;line-height:1;transform:scaleX(0.9635);transform-origin:0 0">3.200</div>
<div style="position:absolute;left:1172.45px;top:207.56px;font-size:10.97px;color:#4c525e;font-weight:normal;white-space:pre;line-height:1;transform:scaleX(0.9635);transform-origin:0 0">3.100</div>
<div style="position:absolute;left:1172.45px;top:298.56px;font-size:10.97px;color:#4c525e;font-weight:normal;white-space:pre;line-height:1;transform:scaleX(0.9635);transform-origin:0 0">2.900</div>
<div style="position:absolute;left:1172.45px;top:389.56px;font-size:10.97px;color:#4c525e;font-weight:normal;white-space:pre;line-height:1;transform:scaleX(0.9635);transform-origin:0 0">2.700</div>
<div style="position:absolute;left:1172.65px;top:512.36px;font-size:10.97px;color:#4c525e;font-weight:normal;white-space:pre;line-height:1;transform:scaleX(0.9702);transform-origin:0 0">0.1000</div>
<div style="position:absolute;left:1172.65px;top:544.36px;font-size:10.97px;color:#4c525e;font-weight:normal;white-space:pre;line-height:1;transform:scaleX(0.9702);transform-origin:0 0">0.0000</div>
<div style="position:absolute;left:1172.65px;top:576.36px;font-size:10.97px;color:#4c525e;font-weight:normal;white-space:pre;line-height:1;transform:scaleX(0.9868);transform-origin:0 0">-0.1000</div>
<div style="position:absolute;left:-0.19px;top:504.91px;font-size:11.80px;color:#4c525e;font-weight:normal;white-space:pre;line-height:1;transform:scaleX(1.0080);transform-origin:0 0">MACD (12, 26, close, 9)</div>
<div style="position:absolute;left:223.19px;top:506.09px;font-size:12.21px;color:#ff0a6e;font-weight:normal;white-space:pre;line-height:1;transform:scaleX(0.8517);transform-origin:0 0">0.0151</div>
<div style="position:absolute;left:266.99px;top:506.09px;font-size:12.21px;color:#2196f3;font-weight:normal;white-space:pre;line-height:1;transform:scaleX(0.8518);transform-origin:0 0">0.0441</div>
<div style="position:absolute;left:310.59px;top:506.09px;font-size:12.21px;color:#ff6d00;font-weight:normal;white-space:pre;line-height:1;transform:scaleX(0.8652);transform-origin:0 0">0.0291</div>
<div style="position:absolute;left:25.07px;top:599.06px;font-size:10.56px;color:#4c525e;font-weight:normal;-webkit-text-stroke:0.25px #4c525e;white-space:pre;line-height:1;transform:scaleX(0.9748);transform-origin:0 0">Nov</div>
<div style="position:absolute;left:171.87px;top:599.06px;font-size:10.56px;color:#4c525e;font-weight:normal;-webkit-text-stroke:0.25px #4c525e;white-space:pre;line-height:1;transform:scaleX(0.9775);transform-origin:0 0">Dec</div>
<div style="position:absolute;left:302.27px;top:599.58px;font-size:10.56px;color:#4c525e;font-weight:bold;white-space:pre;line-height:1;transform:scaleX(1.0435);transform-origin:0 0">2018</div>
<div style="position:absolute;left:452.47px;top:599.06px;font-size:10.56px;color:#4c525e;font-weight:normal;-webkit-text-stroke:0.25px #4c525e;white-space:pre;line-height:1;transform:scaleX(1.0293);transform-origin:0 0">Feb</div>
<div style="position:absolute;left:585.07px;top:599.06px;font-size:10.56px;color:#4c525e;font-weight:normal;-webkit-text-stroke:0.25px #4c525e;white-space:pre;line-height:1;transform:scaleX(1.0018);transform-origin:0 0">Mar</div>
<div style="position:absolute;left:726.47px;top:599.06px;font-size:10.56px;color:#4c525e;font-weight:normal;-webkit-text-stroke:0.25px #4c525e;white-space:pre;line-height:1;transform:scaleX(1.0914);transform-origin:0 0">Apr</div>
<div style="position:absolute;left:863.47px;top:599.06px;font-size:10.56px;color:#4c525e;font-weight:normal;-webkit-text-stroke:0.25px #4c525e;white-space:pre;line-height:1;transform:scaleX(1.0262);transform-origin:0 0">May</div>
<div style="position:absolute;left:1019.47px;top:599.06px;font-size:10.56px;color:#4c525e;font-weight:normal;-webkit-text-stroke:0.25px #4c525e;white-space:pre;line-height:1;transform:scaleX(1.0000);transform-origin:0 0">Jun</div>
<div style="position:absolute;left:8.38px;top:624.20px;font-size:12.35px;color:#4c525e;font-weight:normal;white-space:pre;line-height:1;transform:scaleX(0.9685);transform-origin:0 0">1D</div>
<div style="position:absolute;left:40.58px;top:624.20px;font-size:12.35px;color:#4c525e;font-weight:normal;white-space:pre;line-height:1;transform:scaleX(0.9005);transform-origin:0 0">5D</div>
<div style="position:absolute;left:70.78px;top:623.85px;font-size:12.35px;color:#4c525e;font-weight:normal;white-space:pre;line-height:1;transform:scaleX(1.0030);transform-origin:0 0">1Mo</div>
<div style="position:absolute;left:111.98px;top:623.85px;font-size:12.35px;color:#4c525e;font-weight:normal;white-space:pre;line-height:1;transform:scaleX(0.9377);transform-origin:0 0">3Mo</div>
<div style="position:absolute;left:151.18px;top:623.85px;font-size:12.35px;color:#4c525e;font-weight:normal;white-space:pre;line-height:1;transform:scaleX(1.0011);transform-origin:0 0">6Mo</div>
<div style="position:absolute;left:190.18px;top:624.20px;font-size:12.35px;color:#4c525e;font-weight:normal;white-space:pre;line-height:1;transform:scaleX(0.9799);transform-origin:0 0">YTD</div>
<div style="position:absolute;left:228.58px;top:624.20px;font-size:12.35px;color:#4c525e;font-weight:normal;white-space:pre;line-height:1;transform:scaleX(1.0734);transform-origin:0 0">1Y</div>
<div style="position:absolute;left:260.58px;top:624.20px;font-size:12.35px;color:#4c525e;font-weight:normal;white-space:pre;line-height:1;transform:scaleX(0.9354);transform-origin:0 0">5Y</div>
<div style="position:absolute;left:290.38px;top:623.85px;font-size:12.35px;color:#4c525e;font-weight:normal;white-space:pre;line-height:1;transform:scaleX(1.1123);transform-origin:0 0">All</div>
<div style="position:absolute;left:332.78px;top:623.85px;font-size:12.35px;color:#4c525e;font-weight:normal;white-space:pre;line-height:1;transform:scaleX(1.1542);transform-origin:0 0">Go to...</div>
<div style="position:absolute;left:934.18px;top:623.85px;font-size:12.35px;color:#4c525e;font-weight:normal;white-space:pre;line-height:1;transform:scaleX(1.0714);transform-origin:0 0">19:05:27 (UTC)</div>
<div style="position:absolute;left:1054.78px;top:623.85px;font-size:12.35px;color:#4c525e;font-weight:normal;white-space:pre;line-height:1;transform:scaleX(1.0987);transform-origin:0 0">ext</div>
<div style="position:absolute;left:1089.38px;top:624.20px;font-size:12.35px;color:#4c525e;font-weight:normal;white-space:pre;line-height:1;transform:scaleX(1.1077);transform-origin:0 0">%</div>
<div style="position:absolute;left:1116.58px;top:623.85px;font-size:12.35px;color:#4c525e;font-weight:normal;white-space:pre;line-height:1;transform:scaleX(1.0977);transform-origin:0 0">log</div>
<div style="position:absolute;left:1152.38px;top:623.85px;font-size:12.35px;color:#2196f3;font-weight:normal;white-space:pre;line-height:1;transform:scaleX(1.0635);transform-origin:0 0">auto</div>
<div style="position:absolute;left:1165px;top:251.3px;width:38px;height:15.6px;background:#000"></div><div style="position:absolute;left:1165px;top:258.0px;width:3.5px;height:1px;background:#fff"></div><div style="position:absolute;left:1165px;top:341.3px;width:38px;height:15.6px;background:#000"></div><div style="position:absolute;left:1165px;top:348.0px;width:3.5px;height:1px;background:#fff"></div><div style="position:absolute;left:1165px;top:396.3px;width:38px;height:15.6px;background:#000"></div><div style="position:absolute;left:1165px;top:403.0px;width:3.5px;height:1px;background:#fff"></div><div style="position:absolute;left:1165px;top:432.3px;width:38px;height:15.6px;background:#000"></div><div style="position:absolute;left:1165px;top:439.0px;width:3.5px;height:1px;background:#fff"></div><div style="position:absolute;left:1165px;top:477.3px;width:38px;height:15.6px;background:#000"></div><div style="position:absolute;left:1165px;top:484.0px;width:3.5px;height:1px;background:#fff"></div><div style="position:absolute;left:1165px;top:282.3px;width:38px;height:15.6px;background:#53b987"></div><div style="position:absolute;left:1165px;top:289.0px;width:3.5px;height:1px;background:#fff"></div>
<div style="position:absolute;left:1172.45px;top:253.56px;font-size:10.97px;color:#ffffff;font-weight:normal;white-space:pre;line-height:1;transform:scaleX(0.9635);transform-origin:0 0">3.000</div>
<div style="position:absolute;left:1172.45px;top:343.56px;font-size:10.97px;color:#ffffff;font-weight:normal;white-space:pre;line-height:1;transform:scaleX(0.9635);transform-origin:0 0">2.800</div>
<div style="position:absolute;left:1172.45px;top:434.56px;font-size:10.97px;color:#ffffff;font-weight:normal;white-space:pre;line-height:1;transform:scaleX(0.9635);transform-origin:0 0">2.600</div>
<div style="position:absolute;left:1172.45px;top:479.56px;font-size:10.97px;color:#ffffff;font-weight:normal;white-space:pre;line-height:1;transform:scaleX(0.9635);transform-origin:0 0">2.500</div>
<div style="position:absolute;left:1172.45px;top:398.56px;font-size:10.97px;color:#ffffff;font-weight:normal;white-space:pre;line-height:1;transform:scaleX(0.9635);transform-origin:0 0">2.680</div>
<div style="position:absolute;left:1172.45px;top:284.56px;font-size:10.97px;color:#ffffff;font-weight:normal;white-space:pre;line-height:1;transform:scaleX(0.9635);transform-origin:0 0">2.930</div>
</body></html>
